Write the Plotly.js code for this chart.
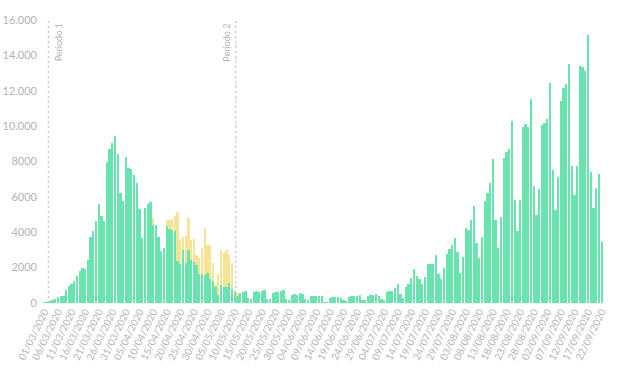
<!DOCTYPE html>
<html>
<head>
<meta charset="utf-8">
<script src="https://cdn.plot.ly/plotly-3.0.1.min.js"></script>
<style>html,body{margin:0;padding:0;background:#fff;}#chart{width:620px;height:368px;}</style>
</head>
<body>
<div id="chart"></div>
<script>
// first day of the daily series and the per-day values (Mar 1 – Sep 22, 2020)
const startDate = '2020-03-01';
const greenCases = [
  40,60,90,150,230,320,380,420,750,940,1100,1230,1550,1800,1980,1920,2450,3740,4060,4620,
  5620,4900,4620,7960,8680,9060,9430,8400,6230,5750,8260,7640,7550,7260,6790,5320,3680,5380,5620,5720,
  4430,4430,3740,2920,3110,4380,4190,4110,4060,2360,2230,2980,2260,2980,2450,2300,2170,1660,1660,1600,
  1700,1360,1230,900,470,1040,900,900,1130,790,600,420,
  570,650,700,300,200,600,700,650,700,720,250,200,560,650,600,680,720,250,180,430,
  500,480,560,520,200,150,380,400,420,410,380,60,50,300,320,330,360,300,150,120,
  330,420,370,400,460,170,150,400,430,450,520,420,200,180,650,680,700,850,1050,500,
  300,900,1100,1400,1900,1500,
  1350,1050,1450,2220,2220,2220,2710,1620,1340,2000,2790,3030,3280,3690,2900,1710,2600,4260,4100,4670,
  5480,3410,2520,3730,5760,6230,6760,8120,4670,3130,4860,8210,8550,8720,10280,5850,4070,5850,9940,10130,
  9940,11510,6610,4970,6420,10060,10190,10380,12450,7500,5240,7120,11410,12170,12390,13520,7740,6100,7740,13390,
  13330,13110,15140,7420,5390,6520,7310,3470
];
// extra cases drawn in yellow on top of the green bars (index 40 onward)
const yellowOffset = 40;
const yellowCases = [
  380,0,0,0,0,340,530,640,840,2770,1390,760,1510,1830,1130,1320,570,890,1450,2650,
  1600,1940,1030,140,1190,1980,1930,2080,1610,1470,150,150
];
const yTickVals = [0,2000,4000,6000,8000,10000,12000,14000,16000];
const yTickText = ['0','2000','4000','6000','8000','10.000','12.000','14.000','16.000'];
const periods = [
  {label:'Periodo 1', date:'2020-03-02 12:00', side:'right'},
  {label:'Periodo 2', date:'2020-05-10 10:00', side:'left'}
];

function addDays(iso, n){
  const d = new Date(iso + 'T12:00:00Z');
  d.setUTCDate(d.getUTCDate() + n);
  return d.toISOString().slice(0,10);
}
const dates = greenCases.map((_, i) => addDays(startDate, i));
const yellowFull = dates.map((_, i) => {
  const j = i - yellowOffset;
  return (j >= 0 && j < yellowCases.length) ? yellowCases[j] : 0;
});

const grey = '#b3b3b3';
const font = 'Lato, Open Sans, sans-serif';

const traces = [
  {type:'bar', x:dates, y:greenCases, marker:{color:'#69e4ae'}, hoverinfo:'x+y', showlegend:false},
  {type:'bar', x:dates, y:yellowFull, marker:{color:'#f6e394'}, hoverinfo:'x+y', showlegend:false}
];

const shapes = periods.map(p => ({
  type:'line', xref:'x', yref:'paper', x0:p.date, x1:p.date, y0:0, y1:1,
  line:{color:'#c4c4c4', width:1.3, dash:'2px,3px'}
}));
const annotations = periods.map(p => ({
  xref:'x', yref:'paper', x:p.date, y:0.995, text:p.label, showarrow:false,
  textangle:-90, xanchor:p.side === 'right' ? 'left' : 'right', yanchor:'top',
  xshift:p.side === 'right' ? 2 : -2,
  font:{family:font, size:9, color:grey}
}));

const layout = {
  width:620, height:368,
  margin:{l:43, r:17, t:20, b:65},
  paper_bgcolor:'#fff', plot_bgcolor:'#fff',
  barmode:'stack', bargap:0.16,
  font:{family:font, color:grey},
  xaxis:{
    type:'date',
    range:[addDays(startDate,-1)+' 12:00', dates[dates.length-1]+' 12:00'],
    tick0:startDate, dtick:5*86400000, tickformat:'%d/%m/%Y',
    tickangle:-64, tickfont:{family:font, size:10, color:grey},
    showgrid:false, zeroline:false, showline:false, ticks:''
  },
  yaxis:{
    range:[0,16000], tickvals:yTickVals, ticktext:yTickText,
    tickfont:{family:font, size:11, color:grey},
    showgrid:false, zeroline:false, showline:false, ticks:'', ticklabelstandoff:5
  },
  shapes:shapes, annotations:annotations
};
Plotly.newPlot('chart', traces, layout, {displayModeBar:false, staticPlot:true});
</script>
</body>
</html>
